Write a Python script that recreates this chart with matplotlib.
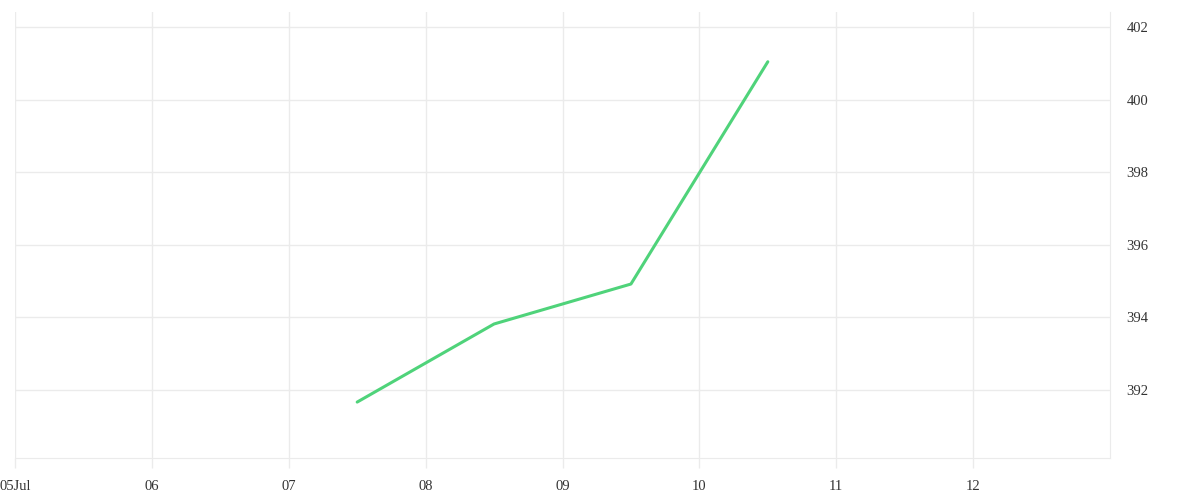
import matplotlib.pyplot as plt
import matplotlib.dates as mdates
import numpy as np

dates = np.array(['2024-07-07T12:00', '2024-07-08T12:00',
                  '2024-07-09T12:00', '2024-07-10T12:00'], dtype='datetime64[m]')
values = [391.67, 393.82, 394.92, 401.04]

tick_days = np.arange(np.datetime64('2024-07-05'), np.datetime64('2024-07-13'))
tick_labels = ['05Jul', '06', '07', '08', '09', '10', '11', '12']
y_ticks = [392, 394, 396, 398, 400, 402]

grid_c = '#ebebeb'
text_c = '#333333'

fig = plt.figure(figsize=(12, 5), dpi=100)
ax = fig.add_axes([0.0125, 0.084, 0.9125, 0.892])

ax.plot(dates.astype('datetime64[s]').astype(object), values,
        color='#4fd37a', linewidth=2.2, solid_capstyle='round')

ax.set_xlim(mdates.date2num(np.datetime64('2024-07-05')),
            mdates.date2num(np.datetime64('2024-07-13')))
ax.set_ylim(390.13, 402.41)

ax.set_xticks(mdates.date2num(tick_days))
ax.set_xticklabels(tick_labels)
ax.set_yticks(y_ticks)
ax.set_yticklabels([str(v) for v in y_ticks])

ax.yaxis.tick_right()
ax.grid(True, color=grid_c, linewidth=1)
ax.set_axisbelow(True)

for side in ['top', 'left']:
    ax.spines[side].set_visible(False)
ax.spines['bottom'].set_color(grid_c)
ax.spines['right'].set_color(grid_c)

ax.tick_params(axis='x', length=7, width=1, color=grid_c, pad=9,
               labelsize=10.5, labelcolor=text_c)
ax.tick_params(axis='y', length=0, pad=12, labelsize=10.5, labelcolor=text_c)
for lab in ax.get_xticklabels() + ax.get_yticklabels():
    lab.set_fontfamily('Liberation Serif')

fig.savefig('out.png', dpi=100, facecolor='white')
